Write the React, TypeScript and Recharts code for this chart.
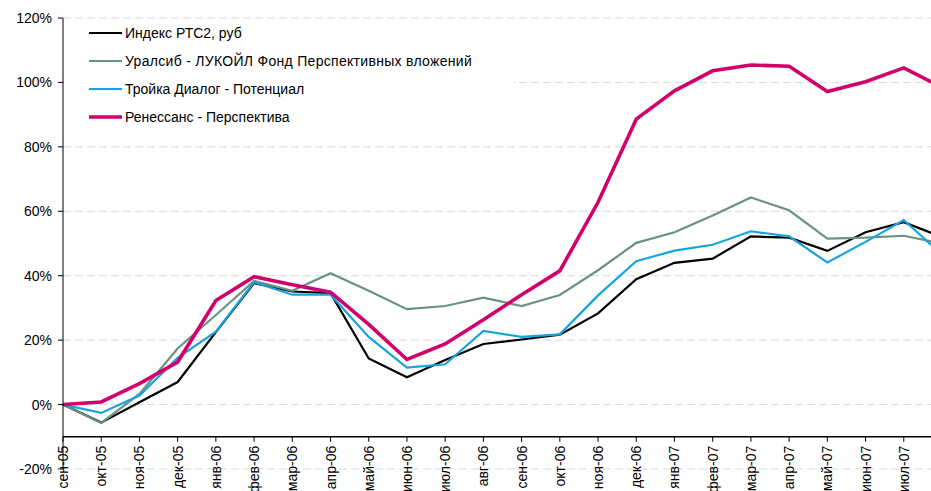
import React from 'react';
import { LineChart, Line, XAxis, YAxis, CartesianGrid, Legend, ReferenceLine } from 'recharts';

const months = [
    'сен-05', 'окт-05', 'ноя-05', 'дек-05', 'янв-06', 'фев-06', 'мар-06', 'апр-06',
    'май-06', 'июн-06', 'июл-06', 'авг-06', 'сен-06', 'окт-06', 'ноя-06', 'дек-06',
    'янв-07', 'фев-07', 'мар-07', 'апр-07', 'май-07', 'июн-07', 'июл-07', 'авг-07',
];

const rts = [0, -5.6, 0.7, 7.0, 22.5, 37.7, 35.1, 34.6, 14.3, 8.5, 13.8, 18.8, 20.2, 21.7, 28.3, 38.9, 44.0, 45.3, 52.2, 51.8, 47.7, 53.5, 56.6, 52.0];
const uralsib = [0, -5.7, 3.3, 17.4, 27.8, 38.4, 35.3, 40.8, 35.3, 29.6, 30.6, 33.2, 30.6, 34.0, 41.7, 50.2, 53.5, 58.7, 64.3, 60.3, 51.5, 51.8, 52.4, 50.0];
const troika = [0, -2.6, 2.8, 14.5, 22.6, 38.0, 34.1, 34.1, 21.0, 11.5, 12.5, 22.9, 21.0, 21.8, 33.9, 44.5, 47.8, 49.6, 53.8, 52.2, 44.1, 50.5, 57.3, 46.5];
const renaissance = [0, 0.8, 6.5, 13.2, 32.3, 39.7, 37.2, 34.9, 24.9, 14.0, 18.8, 26.3, 34.1, 41.5, 62.8, 88.6, 97.4, 103.6, 105.4, 105.0, 97.2, 100.2, 104.5, 98.5];

const yTicks = [-20, 0, 20, 40, 60, 80, 100, 120];

const series = [
    { key: 'rts', name: 'Индекс РТС2, руб', color: '#000000', width: 2.2 },
    { key: 'uralsib', name: 'Уралсиб - ЛУКОЙЛ Фонд Перспективных вложений', color: '#6a9282', width: 2.2 },
    { key: 'troika', name: 'Тройка Диалог - Потенциал', color: '#17a3e0', width: 2.2 },
    { key: 'renaissance', name: 'Ренессанс - Перспектива', color: '#d2006a', width: 3.6 },
];

const data = months.map((m, i) => ({
    m,
    rts: rts[i],
    uralsib: uralsib[i],
    troika: troika[i],
    renaissance: renaissance[i],
}));

const FONT = '"Liberation Sans", Arial, sans-serif';
const TOP = 18;
const BOTTOM = 21;
const X_AXIS_H = 1;
const HEIGHT = 491;
const PLOT_H = HEIGHT - TOP - BOTTOM - X_AXIS_H;
// category axis crosses the value axis at -10%
const AXIS_Y = TOP + ((120 - -10) / 140) * PLOT_H;

const MonthTick = (props: any) => {
    const { x, payload } = props;
    return (
        <g>
            <line x1={x} x2={x} y1={AXIS_Y} y2={AXIS_Y + 5} stroke="#000" />
            <text
                transform={`translate(${x + 5},${AXIS_Y + 9}) rotate(-90)`}
                textAnchor="end"
                fontSize={14}
                fontFamily={FONT}
                fill="#000"
            >
                {payload.value}
            </text>
        </g>
    );
};

const LegendBox = () => (
    <div style={{ background: '#fff', width: 425, paddingLeft: 25, fontFamily: FONT, fontSize: 14, color: '#000' }}>
        {series.map((s) => (
            <div key={s.key} style={{ height: 28, display: 'flex', alignItems: 'center' }}>
                <svg width={36} height={8}>
                    <line x1={0} x2={33} y1={4} y2={4} stroke={s.color} strokeWidth={s.width} />
                </svg>
                <span style={{ letterSpacing: s.key === 'uralsib' ? 0.3 : 0 }}>{s.name}</span>
            </div>
        ))}
    </div>
);

export default function App() {
    return (
        <div style={{ position: 'absolute', left: 0, top: 0, width: 931, height: HEIGHT, overflow: 'hidden', background: '#fff' }}>
            <LineChart width={942} height={HEIGHT} data={data} margin={{ top: TOP, right: 0, bottom: BOTTOM, left: 0 }}>
                <CartesianGrid vertical={false} stroke="#d9d9d9" strokeDasharray="8 4" />
                <XAxis
                    dataKey="m"
                    height={X_AXIS_H}
                    interval={0}
                    axisLine={false}
                    tickLine={false}
                    tickSize={0}
                    tick={MonthTick}
                />
                <YAxis
                    width={63}
                    domain={[-20, 120]}
                    ticks={yTicks}
                    tickFormatter={(v) => `${v}%`}
                    axisLine={{ stroke: '#000' }}
                    tickLine={{ stroke: '#000' }}
                    tickSize={5}
                    tickMargin={6}
                    tick={{ fontSize: 14, fontFamily: FONT, fill: '#000' }}
                />
                <ReferenceLine y={-10} stroke="#000" strokeWidth={1.5} />
                <Legend
                    layout="vertical"
                    align="center"
                    verticalAlign="middle"
                    content={<LegendBox />}
                    wrapperStyle={{ left: 64, top: 19, width: 'auto' }}
                />
                {series.map((s) => (
                    <Line
                        key={s.key}
                        type="linear"
                        dataKey={s.key}
                        name={s.name}
                        stroke={s.color}
                        strokeWidth={s.width}
                        dot={false}
                        isAnimationActive={false}
                    />
                ))}
            </LineChart>
        </div>
    );
}
